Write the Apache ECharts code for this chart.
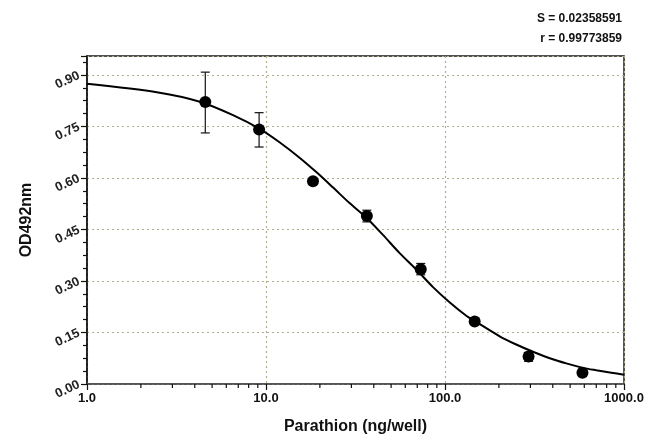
<!DOCTYPE html>
<html>
<head>
<meta charset="utf-8">
<script src="https://cdn.jsdelivr.net/npm/echarts@6/dist/echarts.min.js"></script>
<style>html,body{margin:0;padding:0;background:#fff;}#chart{width:649px;height:443px;}</style>
</head>
<body>
<div id="chart"></div>
<script>
// Measured points (Parathion ng/well vs OD492nm)
const doses = [4.58, 9.15, 18.3, 36.6, 73.2, 146.5, 293, 586];
const means = [0.821, 0.741, 0.590, 0.489, 0.334, 0.182, 0.080, 0.033];
const errLow = [0.731, 0.690, 0.585, 0.472, 0.318, 0.174, 0.066, 0.022];
const errHigh = [0.908, 0.790, 0.597, 0.506, 0.351, 0.191, 0.092, 0.043];
// Fitted curve
const curveX = [1, 2.5, 4.27, 6.54, 9.22, 11.9, 15.4, 19.1, 23.7, 29.4, 36.4, 45, 55.8, 69.2, 85.7, 106, 132, 146, 202, 250, 310, 400, 476, 590, 700, 850, 1000];
const curveY = [0.874, 0.849, 0.822, 0.783, 0.743, 0.704, 0.659, 0.617, 0.572, 0.526, 0.484, 0.434, 0.381, 0.333, 0.282, 0.238, 0.198, 0.184, 0.139, 0.115, 0.094, 0.072, 0.060, 0.047, 0.040, 0.033, 0.027];
// Axis ticks
const xMinorTicks = [2,3,4,5,6,7,8,9,20,30,40,50,60,70,80,90,200,300,400,500,600,700,800,900];
const yTicks = [0.00, 0.15, 0.30, 0.45, 0.60, 0.75, 0.90];
const statLines = ['S = 0.02358591', 'r = 0.99773859'];

const chart = echarts.init(document.getElementById('chart'), null, {renderer: 'canvas'});
const gridCol = '#b3ad8e';
const font = 'Liberation Sans, Arial, sans-serif';

const option = {
  animation: false,
  backgroundColor: '#fff',
  grid: {left: 87, right: 25, top: 56, bottom: 59, show: true, borderColor: '#1a1a1a', borderWidth: 1.5, backgroundColor: 'transparent'},
  xAxis: {
    type: 'log', logBase: 10, min: 1, max: 1000,
    name: 'Parathion (ng/well)', nameLocation: 'middle', nameGap: 35,
    nameTextStyle: {fontFamily: font, fontSize: 16, fontWeight: 'bold', color: '#111'},
    axisLine: {show: true, onZero: false, lineStyle: {color: '#555', width: 1.5}},
    axisTick: {show: true, inside: false, length: 6, lineStyle: {color: '#111', width: 1.2}},
    axisLabel: {margin: 8, fontFamily: font, fontSize: 13, fontWeight: 'bold', color: '#111',
      formatter: v => Number(v).toFixed(1)},
    splitLine: {show: true, lineStyle: {color: gridCol, type: [2, 3], width: 1.2}}
  },
  yAxis: {
    type: 'value', min: 0, max: 0.955, interval: 0.15,
    name: 'OD492nm', nameLocation: 'middle', nameGap: 52,
    nameTextStyle: {fontFamily: font, fontSize: 16, fontWeight: 'bold', color: '#111'},
    axisLine: {show: true, lineStyle: {color: '#111', width: 1.5}},
    axisTick: {show: true, length: 6, lineStyle: {color: '#111', width: 1.2}},
    minorTick: {show: true, splitNumber: 4, length: 4, lineStyle: {color: '#111', width: 1.2}},
    axisLabel: {margin: 8, rotate: 25, fontFamily: font, fontSize: 13, fontWeight: 'bold', color: '#222',
      formatter: v => {
        const hit = yTicks.find(t => Math.abs(t - v) < 1e-6);
        return hit === undefined ? '' : hit.toFixed(2);
      }},
    splitLine: {show: true, lineStyle: {color: gridCol, type: [2, 3], width: 1.2}}
  },
  graphic: statLines.map((t, i) => ({
    type: 'text', right: 27, top: 13 + i * 20,
    style: {text: t, fontFamily: font, fontSize: 12, fontWeight: 'bold', fill: '#111', textAlign: 'right'}
  })),
  series: [
    {
      type: 'custom', silent: true, clip: false, z: 5,
      data: xMinorTicks.map(v => [v, 0]),
      renderItem: (params, api) => {
        const p = api.coord([api.value(0), api.value(1)]);
        return {type: 'line', shape: {x1: p[0], y1: p[1], x2: p[0], y2: p[1] + 4},
          style: {stroke: '#111', lineWidth: 1.2}};
      }
    },
    {
      type: 'line', data: curveX.map((x, i) => [x, curveY[i]]),
      smooth: 0.3, showSymbol: false, lineStyle: {color: '#000', width: 2}, z: 3
    },
    {
      type: 'custom', z: 4,
      data: doses.map((x, i) => [x, errLow[i], errHigh[i]]),
      renderItem: (params, api) => {
        const lo = api.coord([api.value(0), api.value(1)]);
        const hi = api.coord([api.value(0), api.value(2)]);
        const w = 4.5;
        return {type: 'group', children: [
          {type: 'line', shape: {x1: lo[0], y1: lo[1], x2: hi[0], y2: hi[1]}, style: {stroke: '#111', lineWidth: 1.2}},
          {type: 'line', shape: {x1: lo[0] - w, y1: lo[1], x2: lo[0] + w, y2: lo[1]}, style: {stroke: '#111', lineWidth: 1.2}},
          {type: 'line', shape: {x1: hi[0] - w, y1: hi[1], x2: hi[0] + w, y2: hi[1]}, style: {stroke: '#111', lineWidth: 1.2}}
        ]};
      }
    },
    {
      type: 'scatter', data: doses.map((x, i) => [x, means[i]]),
      symbol: 'circle', symbolSize: 12, itemStyle: {color: '#000', opacity: 1}, z: 6
    }
  ]
};
chart.setOption(option);
</script>
</body>
</html>
